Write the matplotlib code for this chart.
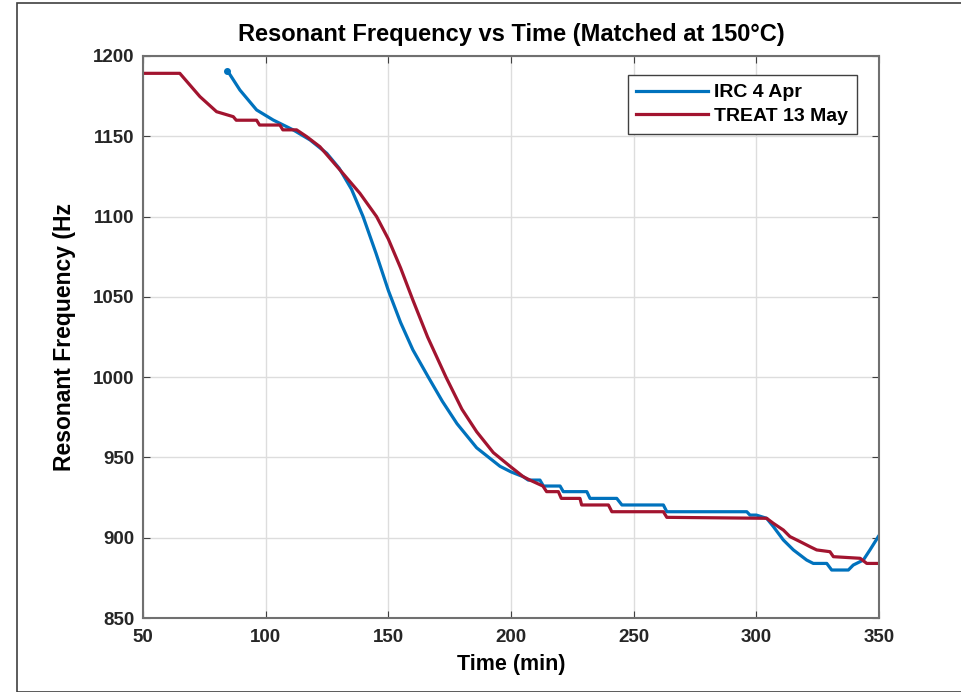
import matplotlib
matplotlib.use("Agg")
import matplotlib.pyplot as plt
from matplotlib.patches import Rectangle

plt.rcParams['font.family'] = ['Liberation Sans', 'DejaVu Sans']

# IRC 4 Apr (blue)
irc_t = [84.4, 89.5, 96.3, 103.1, 111.3, 118.1, 124.9, 130.0, 135.0, 139.7, 145.0,
         150.0, 155.0, 160.0, 166.3, 172.0, 178.0, 186.0, 195.5, 200.0, 205.0, 207.0,
         211.8, 213.2, 220.0, 221.3, 230.9, 232.2, 243.1, 245.2, 262.1, 263.5,
         296.1, 297.4, 300.0, 304.2, 306.9, 311.0, 315.1, 320.5, 323.2, 328.7,
         330.7, 337.5, 339.5, 343.6, 346.3, 349.7]
irc_f = [1190.9, 1178.8, 1166.4, 1160.1, 1153.9, 1147.7, 1139.4, 1130.0, 1117.0, 1100.0, 1077.0,
         1054.0, 1034.0, 1017.0, 1000.0, 985.0, 971.0, 956.0, 944.5, 941.0, 938.0, 935.9,
         935.9, 932.2, 932.2, 928.7, 928.7, 924.5, 924.5, 920.4, 920.4, 916.2,
         916.2, 914.1, 914.1, 912.1, 907.0, 898.6, 892.4, 886.1, 884.0, 884.0,
         879.9, 879.9, 883.0, 886.1, 892.4, 900.7]

# TREAT 13 May (red)
treat_t = [50.0, 65.0, 73.2, 80.0, 86.8, 88.0, 96.3, 97.5, 105.8, 107.0, 112.6,
           116.7, 122.1, 130.3, 138.4, 145.2, 150.0, 155.0, 160.0, 166.0, 173.5, 180.0,
           186.0, 192.8, 199.6, 205.0, 207.7, 213.0, 214.5, 219.3, 220.5, 228.1,
           228.8, 239.7, 241.1, 262.1, 263.5, 304.2, 306.9, 311.0, 313.7, 317.8,
           321.9, 324.6, 330.0, 331.4, 342.3, 345.0, 349.7]
treat_f = [1189.2, 1189.2, 1174.7, 1165.3, 1162.2, 1160.0, 1160.0, 1157.0, 1157.0, 1154.0, 1154.0,
           1149.8, 1143.5, 1129.0, 1114.5, 1100.0, 1086.0, 1068.0, 1048.0, 1025.0, 1000.0, 980.0,
           966.0, 953.0, 944.5, 938.0, 935.9, 932.2, 928.7, 928.7, 924.5, 924.5,
           920.4, 920.4, 916.2, 916.2, 912.7, 912.1, 909.0, 904.8, 900.7, 897.6,
           894.4, 892.4, 891.3, 888.2, 887.2, 884.0, 884.0]

x_ticks = [50, 100, 150, 200, 250, 300, 350]
y_ticks = [850, 900, 950, 1000, 1050, 1100, 1150, 1200]

fig = plt.figure(figsize=(9.61, 6.92), dpi=100)
fig.patches.append(Rectangle((17 / 961, 0), 1, 1 - 3 / 692, transform=fig.transFigure,
                             fill=False, edgecolor='#404040', linewidth=1.2))
ax = fig.add_axes([0.1488, 0.1069, 0.7659, 0.8122])

ax.plot(irc_t, irc_f, color='#0072BD', lw=2.3, label='IRC 4 Apr')
ax.plot(treat_t, treat_f, color='#A2142F', lw=2.3, label='TREAT 13 May')
ax.plot(irc_t[0], irc_f[0], 'o', color='#0072BD', ms=4)

ax.set_xlim(50, 350)
ax.set_ylim(850, 1200)
ax.set_xticks(x_ticks)
ax.set_yticks(y_ticks)
ax.grid(True, color='#dddddd', lw=1)
ax.set_axisbelow(True)
ax.tick_params(direction='in', top=True, right=True, length=5, color='#404040',
               labelsize=13.5)
ax.tick_params(axis='x', pad=8)
ax.tick_params(axis='y', pad=6)
for lab in ax.get_xticklabels() + ax.get_yticklabels():
    lab.set_fontweight('bold')
    lab.set_color('#262626')
for s in ax.spines.values():
    s.set_color('#707070')
    s.set_linewidth(1.5)

ax.set_title('Resonant Frequency vs Time (Matched at 150\u00b0C)', fontsize=17,
             fontweight='bold', pad=11)
ax.set_xlabel('Time (min)', fontsize=15.5, fontweight='bold', labelpad=6)
ax.set_ylabel('Resonant Frequency (Hz', fontsize=16.5, fontweight='bold', labelpad=12)

leg = ax.legend(loc='upper right', bbox_to_anchor=(0.970, 0.966), borderaxespad=0,
                fontsize=14, handlelength=3.7, handletextpad=0.3, borderpad=0.45,
                labelspacing=0.3, fancybox=False, edgecolor='#404040', framealpha=1)
for t in leg.get_texts():
    t.set_fontweight('bold')
leg.get_frame().set_linewidth(1.0)

fig.savefig('out.png', dpi=100)
